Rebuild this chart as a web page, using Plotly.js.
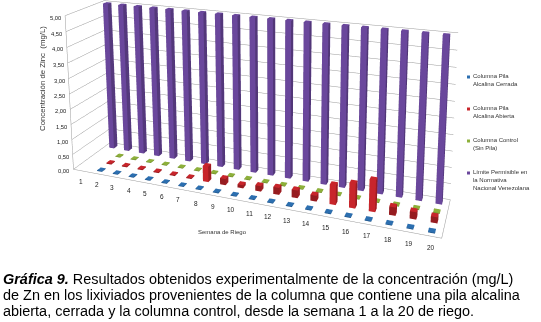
<!DOCTYPE html>
<html><head><meta charset="utf-8"><script src="https://cdn.plot.ly/plotly-3.0.1.min.js"></script>
<style>html,body{margin:0;padding:0;background:#fff;width:541px;height:322px;overflow:hidden;position:relative}#c{position:absolute;left:0;top:-330px;width:554px;height:652px}</style></head><body><div id="c"></div>
<script>
const weeks=[1,2,3,4,5,6,7,8,9,10,11,12,13,14,15,16,17,18,19,20];
const cerrada=[null,.02,.02,.02,.02,.02,.02,.02,.02,.02,.02,.02,.02,.02,.02,.02,.02,.02,.02,.02];
const abierta=[null,.03,.03,.03,.03,.03,.03,.5,.2,.1,.17,.22,.24,.18,.6,.75,.95,.25,.22,.18];
const control=[null,.02,.02,.02,.02,.02,.02,.02,.02,.02,.02,.02,.02,.02,.02,.02,.02,.02,.02,.02];
const limite=[5,5,5,5,5,5,5,5,5,5,5,5,5,5,5,5,5,5,5,5];
const zTicks=[0,.5,1,1.5,2,2.5,3,3.5,4,4.5,5];
const zLabels=['0,00','0,50','1,00','1,50','2,00','2,50','3,00','3,50','4,00','4,50','5,00'];
const names=['Columna Pila<br>Alcalina Cerrada','Columna Pila<br>Alcalina Abierta','Columna Control<br>(Sin Pila)','Límite Permisible en<br>la Normativa<br>Nacional Venezolana'];
const colors=['#2c6fb0','#c8252b','#8db03a','#6a479c'];
const captionLines=['<b><i>Gráfica 9.</i></b> Resultados obtenidos experimentalmente de la concentración (mg/L)','de Zn en los lixiviados provenientes de la columna que contiene una pila alcalina','abierta, cerrada y la columna control, desde la semana 1 a la 20 de riego.'];
const legendY=[77,109,141,173];
const capY=[279,295,311];
const W=554,H=652,TOP=330;
const px=x=>x/W, py=y=>1-(y+TOP)/H;
const sans='Liberation Sans, Arial, sans-serif';
function bars(vals,row,color,name){
  const x=[],y=[],z=[],i=[],j=[],k=[];const hw=.16,hd=.2;
  vals.forEach((v,n)=>{if(v==null)return;const b=x.length,w=weeks[n];
    [[-1,-1,0],[1,-1,0],[1,1,0],[-1,1,0],[-1,-1,1],[1,-1,1],[1,1,1],[-1,1,1]].forEach(c=>{x.push(w+c[0]*hw);y.push(row+c[1]*hd);z.push(c[2]*v);});
    [[0,1,2],[0,2,3],[4,5,6],[4,6,7],[0,1,5],[0,5,4],[1,2,6],[1,6,5],[2,3,7],[2,7,6],[3,0,4],[3,4,7]].forEach(t=>{i.push(b+t[0]);j.push(b+t[1]);k.push(b+t[2]);});
  });
  return {type:'mesh3d',x,y,z,i,j,k,color,name,flatshading:true,hoverinfo:'skip',
    lighting:{ambient:.75,diffuse:.6,specular:0,roughness:1,fresnel:0},lightposition:{x:1000,y:-3000,z:2000}};
}
const data=[bars(cerrada,1,colors[0],names[0]),bars(abierta,2,colors[1],names[1]),bars(control,3,colors[2],names[2]),bars(limite,4,colors[3],names[3])];
const anns=[
 {x:222,y:232,text:'Semana de Riego',size:6,font:sans},
 {x:42,y:79,text:'Concentración de Zinc  (mg/L)',size:7.8,font:sans,angle:-90}
].map(a=>({xref:'paper',yref:'paper',x:px(a.x),y:py(a.y),xanchor:'center',yanchor:'middle',showarrow:false,text:a.text,textangle:a.angle||0,font:{family:a.font,size:a.size,color:'#333'}}));
names.forEach((n,q)=>anns.push({xref:'paper',yref:'paper',x:px(472),y:py(legendY[q]-5),xanchor:'left',yanchor:'top',align:'left',showarrow:false,text:n,borderpad:0,font:{family:sans,size:6,color:'#333'}}));
captionLines.forEach((t,q)=>anns.push({xref:'paper',yref:'paper',x:px(2),y:py(capY[q]),xanchor:'left',yanchor:'middle',align:'left',showarrow:false,text:t,borderpad:0,font:{family:sans,size:14.45,color:'#000'}}));
const shapes=legendY.map((y,q)=>({type:'rect',xref:'paper',yref:'paper',x0:px(467),x1:px(470),y0:py(y+1.5),y1:py(y-1.5),fillcolor:colors[q],line:{width:0}}));
const sceneAnns=[
 ...weeks.map(w=>({x:w,y:.5,z:0,text:String(w),showarrow:false,xanchor:'center',yanchor:'middle',yshift:-11,font:{family:sans,size:6.5,color:'#222'}})),
 ...zTicks.map((t,q)=>({x:.5,y:.5,z:t,text:zLabels[q],showarrow:false,xanchor:'right',yanchor:'middle',xshift:-2,yshift:-2,font:{family:sans,size:5.8,color:'#222'}}))
];
const layout={width:W,height:H,margin:{l:0,r:0,t:0,b:0},paper_bgcolor:'rgba(0,0,0,0)',showlegend:false,
 font:{family:sans,size:8,color:'#333'},shapes,annotations:anns,
 scene:{domain:{x:[0,1],y:[72/652,1]},aspectmode:'manual',aspectratio:{x:1.99,y:.3655,z:.872},annotations:sceneAnns,
  camera:{eye:{x:1.273,y:-3.191,z:1.374},center:{x:.081,y:.139,z:.746},up:{x:0,y:0,z:1},projection:{type:'perspective'}},
  bgcolor:'#fff',
  xaxis:{range:[.5,20.5],tickvals:weeks,showticklabels:false,showgrid:false,zeroline:false,showline:true,linecolor:'#999',showbackground:false,title:{text:''},ticks:''},
  yaxis:{range:[.5,4.5],showticklabels:false,showgrid:false,zeroline:false,showline:true,linecolor:'#999',showbackground:false,title:{text:''},ticks:''},
  zaxis:{range:[0,5],tickvals:zTicks,showticklabels:false,showgrid:true,gridcolor:'#999',gridwidth:1,zeroline:false,showline:true,linecolor:'#999',showbackground:false,title:{text:''},ticks:''}
 }
};
Plotly.newPlot('c',data,layout,{displayModeBar:false});
</script></body></html>
